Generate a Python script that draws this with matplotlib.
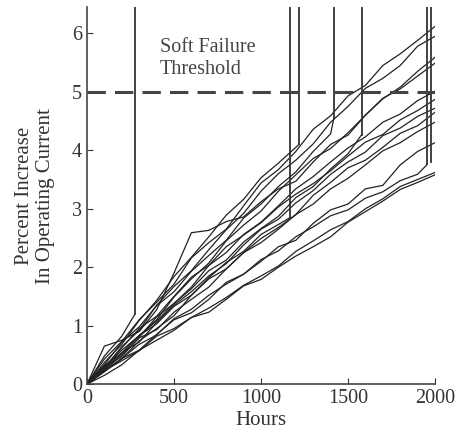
import matplotlib
matplotlib.use("Agg")
import matplotlib.pyplot as plt
import numpy as np

# Inspection hours for the units that survived to the end of the test
HOURS = list(range(0, 2001, 100))

# Percent increase in operating current, one list per surviving unit
surviving = [
    [0, .43, .73, 1.10, 1.40, 1.71, 2.16, 2.42, 2.65, 3.05, 3.44, 3.67, 3.98, 4.36, 4.59, 4.93, 5.11, 5.45, 5.65, 5.88, 6.12],
    [0, .28, .64, .92, 1.35, 1.67, 1.94, 2.30, 2.64, 2.92, 3.30, 3.60, 3.83, 4.11, 4.48, 4.75, 5.06, 5.23, 5.45, 5.78, 5.95],
    [0, .65, .75, .90, 1.27, 1.90, 2.59, 2.63, 2.78, 2.86, 3.12, 3.34, 3.47, 3.80, 4.10, 4.26, 4.60, 4.88, 5.08, 5.35, 5.59],
    [0, .30, .58, .83, 1.10, 1.49, 1.80, 2.07, 2.45, 2.72, 2.96, 3.30, 3.58, 3.86, 4.03, 4.30, 4.60, 4.89, 5.05, 5.27, 5.49],
    [0, .29, .47, .80, 1.15, 1.38, 1.66, 2.03, 2.25, 2.56, 2.77, 3.05, 3.34, 3.55, 3.80, 4.04, 4.23, 4.48, 4.62, 4.85, 5.01],
    [0, .27, .62, .95, 1.16, 1.50, 1.83, 2.03, 2.35, 2.55, 2.76, 3.03, 3.25, 3.43, 3.65, 3.90, 4.14, 4.27, 4.52, 4.68, 4.87],
    [0, .25, .54, .72, 1.05, 1.35, 1.58, 1.85, 2.06, 2.38, 2.65, 2.82, 3.10, 3.31, 3.59, 3.80, 3.97, 4.25, 4.38, 4.58, 4.72],
    [0, .23, .43, .74, .95, 1.17, 1.52, 1.80, 1.97, 2.25, 2.49, 2.68, 2.90, 3.23, 3.45, 3.70, 3.83, 4.05, 4.29, 4.42, 4.65],
    [0, .23, .50, .79, .93, 1.23, 1.45, 1.66, 1.97, 2.25, 2.42, 2.65, 2.90, 3.08, 3.34, 3.52, 3.75, 3.99, 4.13, 4.32, 4.48],
    [0, .22, .44, .58, .85, 1.10, 1.22, 1.45, 1.74, 1.88, 2.10, 2.35, 2.46, 2.75, 2.98, 3.08, 3.34, 3.40, 3.75, 3.98, 4.13],
    [0, .15, .33, .58, .75, .92, 1.14, 1.30, 1.48, 1.69, 1.85, 2.02, 2.27, 2.45, 2.64, 2.78, 3.00, 3.17, 3.38, 3.50, 3.62],
    [0, .23, .40, .57, .82, .95, 1.14, 1.23, 1.45, 1.68, 1.79, 2.00, 2.19, 2.35, 2.52, 2.77, 2.95, 3.13, 3.33, 3.45, 3.58],
]

# Units that had a hard failure: hours and values up to the failure time
failed_hours = [
    [0, 100, 200, 276],
    [0, 100, 200, 300, 400, 500, 600, 700, 800, 900, 1000, 1100, 1167],
    [0, 100, 200, 300, 400, 500, 600, 700, 800, 900, 1000, 1100, 1200, 1218],
    [0, 100, 200, 300, 400, 500, 600, 700, 800, 900, 1000, 1100, 1200, 1300, 1400, 1420],
    [0, 100, 200, 300, 400, 500, 600, 700, 800, 900, 1000, 1100, 1200, 1300, 1400, 1500, 1579],
    [0, 100, 200, 300, 400, 500, 600, 700, 800, 900, 1000, 1100, 1200, 1300, 1400, 1500, 1600, 1700, 1800, 1900, 1956],
]
failed_values = [
    [0, .48, .82, 1.20],
    [0, .32, .53, .83, 1.03, 1.33, 1.52, 1.82, 2.08, 2.27, 2.56, 2.73, 2.85],
    [0, .37, .68, 1.09, 1.43, 1.84, 2.17, 2.52, 2.89, 3.16, 3.53, 3.78, 4.05, 4.10],
    [0, .33, .72, .98, 1.34, 1.58, 1.93, 2.20, 2.46, 2.84, 3.08, 3.38, 3.63, 3.98, 4.28, 4.56],
    [0, .27, .53, .83, 1.08, 1.38, 1.63, 1.94, 2.12, 2.43, 2.66, 2.87, 3.19, 3.38, 3.68, 3.94, 4.27],
    [0, .21, .44, .68, .84, 1.12, 1.28, 1.52, 1.71, 1.88, 2.13, 2.28, 2.52, 2.69, 2.88, 2.98, 3.18, 3.29, 3.48, 3.59, 3.76],
]

# Extra hard-failure marker at the end of the test
end_failure_hour = 1975
end_failure_value = 3.80

THRESHOLD = 5.0
Y_TOP = 6.45

plt.rcParams['font.family'] = ['Liberation Serif', 'DejaVu Serif']

fig = plt.figure(figsize=(4.64, 4.42), dpi=100)
ax = fig.add_axes([0.1875, 0.131, 0.75, 0.853])

for vals in surviving:
    ax.plot(HOURS, vals, color='#222222', linewidth=0.9)

for hrs, vals in zip(failed_hours, failed_values):
    ax.plot(hrs, vals, color='#222222', linewidth=0.9)
    # vertical line from failure point up to the top of the plot
    ax.plot([hrs[-1], hrs[-1]], [vals[-1], Y_TOP], color='#333333', linewidth=1.3)

ax.plot([end_failure_hour, end_failure_hour], [end_failure_value, Y_TOP],
        color='#333333', linewidth=1.3)

ax.axhline(THRESHOLD, color='#444444', linewidth=2.2, dashes=(6, 3))
ax.text(420, 5.57, 'Soft Failure\nThreshold', fontsize=14.5, color='#444444',
        va='center', ha='left')

ax.set_xlim(0, 2000)
ax.set_ylim(0, Y_TOP)
ax.set_xticks([0, 500, 1000, 1500, 2000])
ax.set_yticks([0, 1, 2, 3, 4, 5, 6])
ax.tick_params(direction='in', length=4, labelsize=14.5, colors='#333333')
for side in ['top', 'right']:
    ax.spines[side].set_visible(False)
for side in ['left', 'bottom']:
    ax.spines[side].set_color('#444444')
    ax.spines[side].set_linewidth(1.2)

ax.set_xlabel('Hours', fontsize=15, color='#333333', labelpad=2)
ax.set_ylabel('Percent Increase\nIn Operating Current', fontsize=15,
              color='#333333', labelpad=12)

fig.savefig('out.png', dpi=100)
